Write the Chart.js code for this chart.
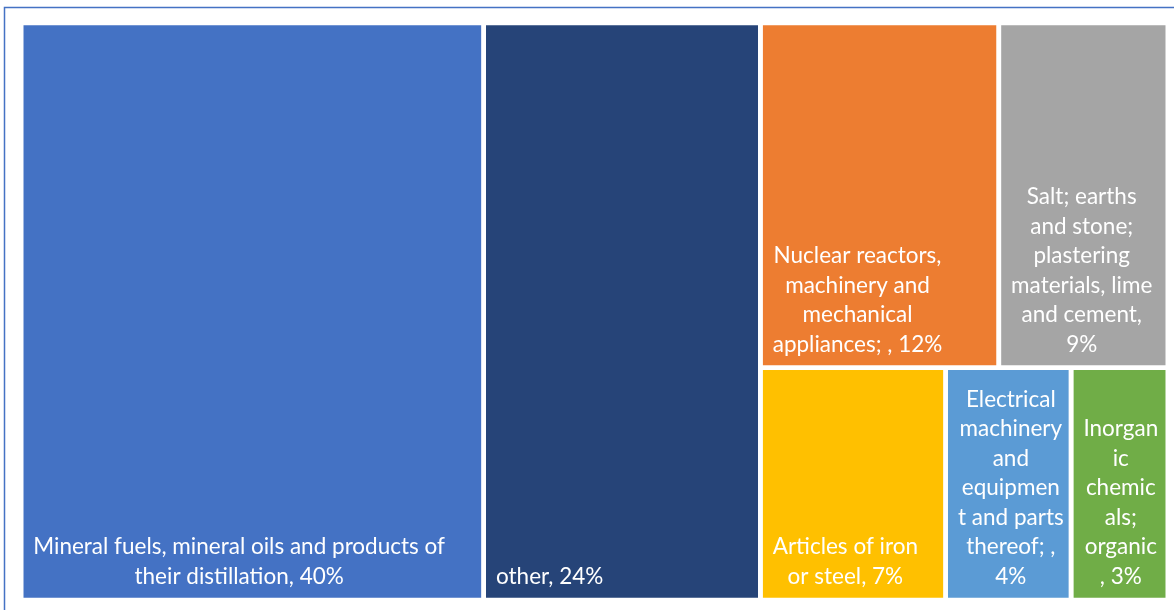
<!DOCTYPE html>
<html>
<head>
<meta charset="utf-8">
<script src="https://cdn.jsdelivr.net/npm/chart.js@4.4.1/dist/chart.umd.min.js"></script>
<style>
  html, body { margin: 0; padding: 0; background: #fff; }
  #wrap { width: 1174px; height: 610px; }
</style>
</head>
<body>
<div id="wrap"><canvas id="treeChart"></canvas></div>
<script>
// du lieu: nhom hang, ty trong (%), nhan hien thi
var categories = [
    'Mineral fuels, mineral oils and products of their distillation',
    'other',
    'Nuclear reactors, machinery and mechanical appliances;',
    'Salt; earths and stone; plastering materials, lime and cement',
    'Articles of iron or steel',
    'Electrical machinery and equipment and parts thereof;',
    'Inorganic chemicals; organic'
];
var shares = [40.3, 24.1, 12.4, 8.8, 6.5, 4.4, 3.4];
var shareLabels = ['40%', '24%', '12%', '9%', '7%', '4%', '3%'];
var labelLines = [
    ['Mineral fuels, mineral oils and products of', 'their distillation, 40%'],
    ['other, 24%'],
    ['Nuclear reactors,', 'machinery and', 'mechanical', 'appliances; , 12%'],
    ['Salt; earths', 'and stone;', 'plastering', 'materials, lime', 'and cement,', '9%'],
    ['Articles of iron', 'or steel, 7%'],
    ['Electrical', 'machinery', 'and', 'equipmen', 't and parts', 'thereof; ,', '4%'],
    ['Inorgan', 'ic', 'chemic', 'als;', 'organic', ', 3%']
];
var colors = ['#4472C4', '#264478', '#ED7D31', '#A5A5A5', '#FFC000', '#5B9BD5', '#70AD47'];
// cay nhom (chia ngang roi doc xen ke)
var groups = [0, 1, [[2, 3], [4, 5, 6]]];

function total(node) {
    if (typeof node === 'number') return shares[node];
    return node.reduce((s, n) => s + total(n), 0);
}

// slice and dice
function layout(node, x0, y0, x1, y1, horiz, out) {
    if (typeof node === 'number') {
        out[node] = { x0: x0, y0: y0, x1: x1, y1: y1 };
        return;
    }
    var sum = total(node);
    var pos = horiz ? x0 : y0;
    for (var i = 0; i < node.length; i++) {
        var len = (total(node[i]) / sum) * (horiz ? (x1 - x0) : (y1 - y0));
        if (horiz) layout(node[i], pos, y0, pos + len, y1, !horiz, out);
        else layout(node[i], x0, pos, x1, pos + len, !horiz, out);
        pos += len;
    }
}

var rects = [];
layout(groups, 0, 0, 100, 100, true, rects);

var gapX = 0.2, gapY = 0.4;
var datasets = rects.map(function (r, i) {
    return {
        label: categories[i],
        data: [{ x: r.x0 + gapX, y: r.y0 + gapY }, { x: r.x1 - gapX, y: r.y0 + gapY }],
        fill: { value: r.y1 - gapY },
        backgroundColor: colors[i],
        borderWidth: 0,
        pointRadius: 0,
        tension: 0
    };
});

// ve nhan chu
var labelPlugin = {
    id: 'labels',
    afterDatasetsDraw: function (chart) {
        var ctx = chart.ctx;
        var xs = chart.scales.x, ys = chart.scales.y;
        ctx.save();
        ctx.font = '22.5px Lato, "Open Sans", sans-serif';
        ctx.fillStyle = '#fff';
        ctx.textAlign = 'center';
        ctx.textBaseline = 'middle';
        rects.forEach(function (r, i) {
            var left = xs.getPixelForValue(r.x0 + gapX);
            var bottom = ys.getPixelForValue(r.y1 - gapY);
            var lines = labelLines[i];
            var w = Math.max.apply(null, lines.map(l => ctx.measureText(l).width));
            var cx = left + 10 + w / 2;
            for (var k = 0; k < lines.length; k++) {
                var y = bottom - 21 - (lines.length - 1 - k) * 29.5;
                ctx.fillText(lines[k], cx, y);
            }
        });
        ctx.restore();
    }
};

// khung vien ngoai
var framePlugin = {
    id: 'frame',
    beforeDraw: function (chart) {
        var ctx = chart.ctx;
        ctx.save();
        ctx.strokeStyle = '#4472C4';
        ctx.lineWidth = 1.5;
        ctx.beginPath();
        ctx.moveTo(4.5, chart.height + 5);
        ctx.lineTo(4.5, 7.5);
        ctx.lineTo(chart.width + 5, 7.5);
        ctx.stroke();
        ctx.restore();
    }
};

var ctx = document.getElementById('treeChart').getContext('2d');
new Chart(ctx, {
    type: 'line',
    data: { datasets: datasets },
    options: {
        responsive: true,
        maintainAspectRatio: false,
        animation: false,
        layout: { padding: { left: 21, top: 23, right: 6, bottom: 10 } },
        scales: {
            x: { type: 'linear', min: 0, max: 100, display: false },
            y: { type: 'linear', min: 0, max: 100, reverse: true, display: false }
        },
        plugins: {
            legend: { display: false },
            tooltip: { enabled: false }
        }
    },
    plugins: [framePlugin, labelPlugin]
});
</script>
</body>
</html>
